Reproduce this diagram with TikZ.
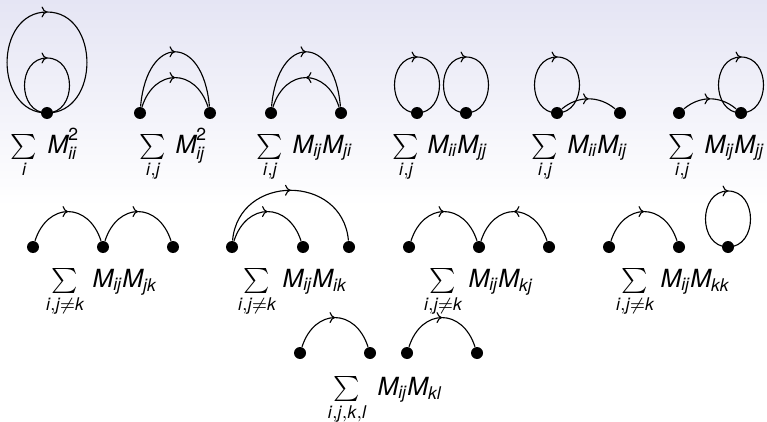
\documentclass[tikz,border=0pt]{standalone}
\usepackage{amsmath}
\usepackage{graphicx}
\usepackage{fontspec}
\setmainfont{TeX Gyre Heros}
\usetikzlibrary{decorations.markings,arrows.meta}
\newcommand{\V}[1]{\text{\itshape #1}}
\definecolor{bgtop}{RGB}{229,229,244}
\begin{document}
\begin{tikzpicture}[x=0.4pt,y=0.4pt,
  dot/.style={circle, fill=black, inner sep=0pt, minimum size=4.8pt},
  edge/.style={line width=0.45pt, postaction={decorate},
    decoration={markings, mark=at position 0.5 with {\arrow{To[length=2.2pt,width=4.4pt]}}}},
  lup/.style={out=180,in=180,distance=12pt},
  ldown/.style={out=0,in=0,distance=12pt},
  bigup/.style={out=180,in=180,distance=21.3pt},
  bigdown/.style={out=0,in=0,distance=21.3pt},
  lbl/.style={inner sep=0pt, font=\normalsize}]
\useasboundingbox (0,0) rectangle (767,421);
\fill[white] (0,0) rectangle (767,421);
\shade[top color=bgtop, bottom color=white] (0,421) rectangle (767,215);

% ---------- row 1 ----------
\node[dot] (d1) at (47,308) {};
\coordinate (t1a) at (47,409);
\coordinate (t1b) at (47,363);
\node[dot] (a2) at (140,308) {};
\node[dot] (b2) at (210,308) {};
\node[dot] (a3) at (271,308) {};
\node[dot] (b3) at (341,308) {};
\node[dot] (a4) at (417,308) {};
\coordinate (t4a) at (417,364);
\node[dot] (b4) at (466,308) {};
\coordinate (t4b) at (466,364);
\node[dot] (a5) at (557,308) {};
\coordinate (t5) at (557,364);
\node[dot] (b5) at (620,308) {};
\node[dot] (a6) at (679,308) {};
\node[dot] (b6) at (741,308) {};
\coordinate (t6) at (741,364);

\draw[edge] (d1.center) to[bigup] (t1a) to[bigdown] (d1.center);
\draw[edge] (d1.center) to[lup] (t1b) to[ldown] (d1.center);
\draw[edge] (a2) to[out=85,in=95,distance=29.3pt] (b2);
\draw[edge] (a2) to[out=72,in=108,distance=16.4pt] (b2);
\draw[edge] (a3) to[out=85,in=95,distance=29.3pt] (b3);
\draw[edge] (b3) to[out=108,in=72,distance=16.4pt] (a3);
\draw[edge] (a4.center) to[lup] (t4a) to[ldown] (a4.center);
\draw[edge] (b4.center) to[lup] (t4b) to[ldown] (b4.center);
\draw[edge] (a5.center) to[lup] (t5) to[ldown] (a5.center);
\draw[edge] (a5) to[out=40,in=140,distance=8.3pt] (b5);
\draw[edge] (b6.center) to[lup] (t6) to[ldown] (b6.center);
\draw[edge] (a6) to[out=40,in=140,distance=8.3pt] (b6);

\node[lbl,anchor=base] (s1) at (24,268) {$\sum\limits_{\V{i}}$};
\node[lbl,anchor=base west] (m1) at (47,268) {$\V{M}^{\text{2}}_{\V{ii}}$};
\node[lbl,anchor=base] (s2) at (153,268) {$\sum\limits_{\V{i},\V{j}}$};
\node[lbl,anchor=base west] (m2) at (175,268) {$\V{M}^{\text{2}}_{\V{ij}}$};
\node[lbl,anchor=base] (s3) at (270,268) {$\sum\limits_{\V{i},\V{j}}$};
\node[lbl,anchor=base west] (m3) at (292,268) {$\V{M}_{\V{ij}}\V{M}_{\V{ji}}$};
\node[lbl,anchor=base] (s4) at (406,268) {$\sum\limits_{\V{i},\V{j}}$};
\node[lbl,anchor=base west] (m4) at (427,268) {$\V{M}_{\V{ii}}\V{M}_{\V{jj}}$};
\node[lbl,anchor=base] (s5) at (545,268) {$\sum\limits_{\V{i},\V{j}}$};
\node[lbl,anchor=base west] (m5) at (567,268) {$\V{M}_{\V{ii}}\V{M}_{\V{ij}}$};
\node[lbl,anchor=base] (s6) at (682,268) {$\sum\limits_{\V{i},\V{j}}$};
\node[lbl,anchor=base west] (m6) at (704,268) {$\V{M}_{\V{ij}}\V{M}_{\V{jj}}$};

% ---------- row 2 ----------
\node[dot] (a7) at (33,174) {};
\node[dot] (b7) at (103,174) {};
\node[dot] (c7) at (173,174) {};
\node[dot] (a8) at (232,174) {};
\node[dot] (b8) at (303,174) {};
\node[dot] (c8) at (349,174) {};
\node[dot] (a9) at (409,174) {};
\node[dot] (b9) at (479,174) {};
\node[dot] (c9) at (549,174) {};
\node[dot] (a10) at (609,174) {};
\node[dot] (b10) at (679,174) {};
\node[dot] (c10) at (728,174) {};
\coordinate (t10) at (728,230);

\draw[edge] (a7) to[out=72,in=108,distance=16.4pt] (b7);
\draw[edge] (b7) to[out=72,in=108,distance=16.4pt] (c7);
\draw[edge] (a8) to[out=72,in=108,distance=16.4pt] (b8);
\draw[edge] (a8) to[out=85,in=95,distance=26.9pt] (c8);
\draw[edge] (a9) to[out=72,in=108,distance=16.4pt] (b9);
\draw[edge] (c9) to[out=108,in=72,distance=16.4pt] (b9);
\draw[edge] (a10) to[out=72,in=108,distance=16.4pt] (b10);
\draw[edge] (c10.center) to[lup] (t10) to[ldown] (c10.center);

\node[lbl,anchor=base] (s7) at (65,134) {$\sum\limits_{\V{i},\V{j}\neq\V{k}}$};
\node[lbl,anchor=base west] (m7) at (92,134) {$\V{M}_{\V{ij}}\V{M}_{\V{jk}}$};
\node[lbl,anchor=base] (s8) at (257,134) {$\sum\limits_{\V{i},\V{j}\neq\V{k}}$};
\node[lbl,anchor=base west] (m8) at (282,134) {$\V{M}_{\V{ij}}\V{M}_{\V{ik}}$};
\node[lbl,anchor=base] (s9) at (443,134) {$\sum\limits_{\V{i},\V{j}\neq\V{k}}$};
\node[lbl,anchor=base west] (m9) at (468,134) {$\V{M}_{\V{ij}}\V{M}_{\V{kj}}$};
\node[lbl,anchor=base] (s10) at (635,134) {$\sum\limits_{\V{i},\V{j}\neq\V{k}}$};
\node[lbl,anchor=base west] (m10) at (660,134) {$\V{M}_{\V{ij}}\V{M}_{\V{kk}}$};

% ---------- row 3 ----------
\node[dot] (a11) at (300,68) {};
\node[dot] (b11) at (370,68) {};
\node[dot] (c11) at (407,68) {};
\node[dot] (d11) at (477,68) {};
\draw[edge] (a11) to[out=72,in=108,distance=16.4pt] (b11);
\draw[edge] (c11) to[out=72,in=108,distance=16.4pt] (d11);

\node[lbl,anchor=base] (s11) at (347,26) {$\sum\limits_{\V{i},\V{j},\V{k},\V{l}}$};
\node[lbl,anchor=base west] (m11) at (377,26) {$\V{M}_{\V{ij}}\V{M}_{\V{kl}}$};
\end{tikzpicture}
\end{document}
